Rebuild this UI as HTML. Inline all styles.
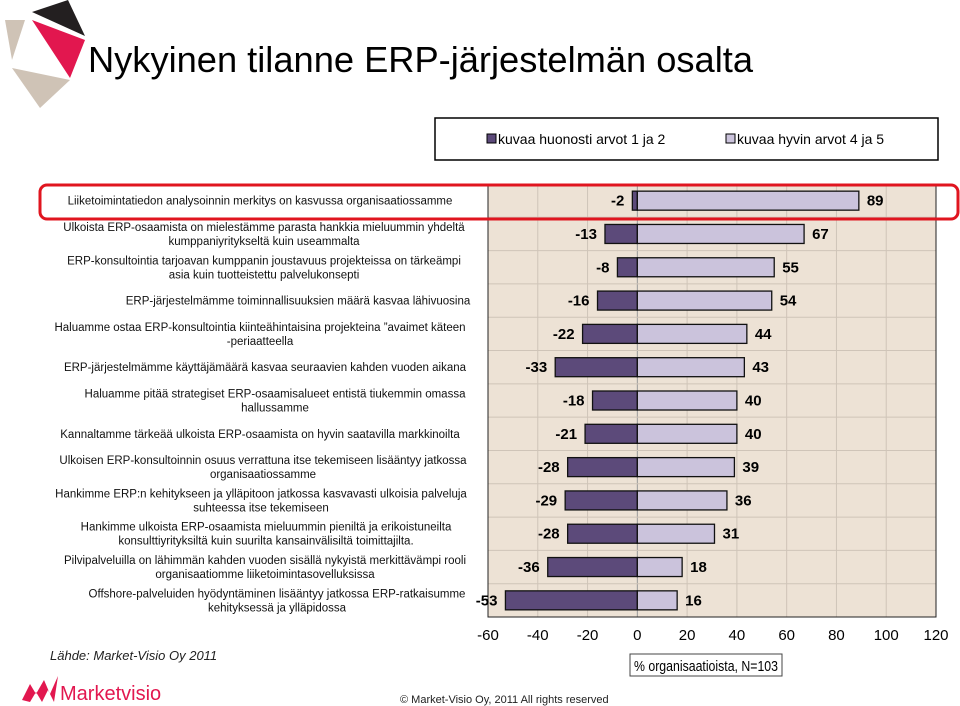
<!DOCTYPE html>
<html><head><meta charset="utf-8"><style>body{margin:0;background:#fff}svg{display:block;font-family:"Liberation Sans",sans-serif}</style></head>
<body>
<svg id="c" width="960" height="706" viewBox="0 0 960 706">
<g>
<polygon points="5,20 25,20 12,60" fill="#cfc3b6"/>
<polygon points="12,68 70,80 40,108" fill="#cfc3b6"/>
<polygon points="32,12 68,0 85,36" fill="#231f20"/>
<polygon points="32,20 85,40 70,78" fill="#e2174f"/>
</g>
<text x="88" y="72" font-size="36" textLength="665" lengthAdjust="spacingAndGlyphs" fill="#000">Nykyinen tilanne ERP-järjestelmän osalta</text>
<g>
<rect x="435" y="118" width="503" height="42" fill="#fff" stroke="#000" stroke-width="1.5"/>
<rect x="487" y="134" width="9" height="9" fill="#5c4a7a" stroke="#000"/>
<text x="498" y="144" font-size="14">kuvaa huonosti arvot 1 ja 2</text>
<rect x="726" y="134" width="9" height="9" fill="#cbc3dc" stroke="#000"/>
<text x="737" y="144" font-size="14">kuvaa hyvin arvot 4 ja 5</text>
</g>
<rect x="488" y="184" width="448" height="433" fill="#ede2d5"/>
<g id="grid"></g><g id="bars"></g><g id="labels"></g><g id="ticks"></g>
<rect x="40" y="185" width="918" height="34" rx="7" fill="none" stroke="#e0151f" stroke-width="3"/>
<rect x="630" y="654" width="152" height="22" fill="#fff" stroke="#444"/>
<text x="634" y="671" font-size="15" textLength="144" lengthAdjust="spacingAndGlyphs">% organisaatioista, N=103</text>
<text x="50" y="660" font-size="13" font-style="italic" fill="#222">Lähde: Market-Visio Oy 2011</text>
<polygon points="22,700 30,684 36,694 44,680 50,694 58,676 54,702 48,690 42,702 36,692 30,702" fill="#e2174f"/>
<text x="60" y="700" font-size="20" fill="#e2174f">Marketvisio</text>
<text x="400" y="703" font-size="11" fill="#222">© Market-Visio Oy, 2011 All rights reserved</text>
</svg>
<script>
const cats=[["Liiketoimintatiedon analysoinnin merkitys on kasvussa organisaatiossamme"],["Ulkoista ERP-osaamista on mielestämme parasta hankkia mieluummin yhdeltä","kumppaniyritykseltä kuin useammalta"],["ERP-konsultointia tarjoavan kumppanin joustavuus projekteissa on tärkeämpi","asia kuin tuotteistettu palvelukonsepti"],["ERP-järjestelmämme toiminnallisuuksien määrä kasvaa lähivuosina"],["Haluamme ostaa ERP-konsultointia kiinteähintaisina projekteina ”avaimet käteen","-periaatteella"],["ERP-järjestelmämme käyttäjämäärä kasvaa seuraavien kahden vuoden aikana"],["Haluamme pitää strategiset ERP-osaamisalueet entistä tiukemmin omassa","hallussamme"],["Kannaltamme tärkeää ulkoista ERP-osaamista on hyvin saatavilla markkinoilta"],["Ulkoisen ERP-konsultoinnin osuus verrattuna itse tekemiseen lisääntyy jatkossa","organisaatiossamme"],["Hankimme ERP:n kehitykseen ja ylläpitoon jatkossa kasvavasti ulkoisia palveluja","suhteessa itse tekemiseen"],["Hankimme ulkoista ERP-osaamista mieluummin pieniltä ja erikoistuneilta","konsulttiyrityksiltä kuin suurilta kansainvälisiltä toimittajilta."],["Pilvipalveluilla on lähimmän kahden vuoden sisällä nykyistä merkittävämpi rooli","organisaatiomme liiketoimintasovelluksissa"],["Offshore-palveluiden hyödyntäminen lisääntyy jatkossa ERP-ratkaisumme","kehityksessä ja ylläpidossa"]];
const poor=[-2,-13,-8,-16,-22,-33,-18,-21,-28,-29,-28,-36,-53];
const good=[89,67,55,54,44,43,40,40,39,36,31,18,16];
const ticks=[-60,-40,-20,0,20,40,60,80,100,120];
const NS="http://www.w3.org/2000/svg";
const X0=488,X1=936,Y0=184,Y1=617,MIN=-60,MAX=120;
const x=v=>X0+(v-MIN)/(MAX-MIN)*(X1-X0);
const rowH=(Y1-Y0)/cats.length;
const y=i=>Y0+rowH*(i+0.5);
function el(t,a,p){const e=document.createElementNS(NS,t);for(const k in a)e.setAttribute(k,a[k]);document.getElementById(p).appendChild(e);return e;}
ticks.forEach(t=>{
 const g=el('line',{x1:x(t),x2:x(t),y1:Y0,y2:Y1,stroke:t===0?'#999':'#cfc4b8','stroke-width':1},'grid');
 
 
 const l=el('text',{x:x(t),y:640,'font-size':15,'text-anchor':'middle'},'ticks');l.textContent=t;
 
 
});
for(let i=1;i<cats.length;i++){const g=el('line',{x1:X0,x2:X1,y1:Y0+rowH*i,y2:Y0+rowH*i,stroke:'#cfc4b8'},'grid');
 
 }
const ax=el('rect',{x:X0,y:Y0,width:X1-X0,height:Y1-Y0,fill:'none',stroke:'#222'},'grid');


const centers=[260,264,264,298,260,265,275,260,263,261,266,265,277];
cats.forEach((c,i)=>{
 const cy=y(i),bh=19;
 const b1=el('rect',{x:x(poor[i]),y:cy-bh/2,width:x(0)-x(poor[i]),height:bh,fill:'#5c4a7a',stroke:'#111','stroke-width':1.3},'bars');
 
 
 const b2=el('rect',{x:x(0),y:cy-bh/2,width:x(good[i])-x(0),height:bh,fill:'#cbc3dc',stroke:'#111','stroke-width':1.3},'bars');
 
 
 const v1=el('text',{x:x(poor[i])-8,y:cy+5,'font-size':15,'font-weight':'bold','text-anchor':'end'},'labels');v1.textContent=poor[i];
 
 
 const v2=el('text',{x:x(good[i])+8,y:cy+5,'font-size':15,'font-weight':'bold'},'labels');v2.textContent=good[i];
 
 
 c.forEach((ln,j)=>{
  const yy=c.length===1?cy+4:cy-3+j*14;
  const t=el('text',{x:centers[i],y:yy,'font-size':11.5,'text-anchor':'middle',fill:'#111'},'labels');t.textContent=ln;
  
  
 });
});
</script>
</body></html>
